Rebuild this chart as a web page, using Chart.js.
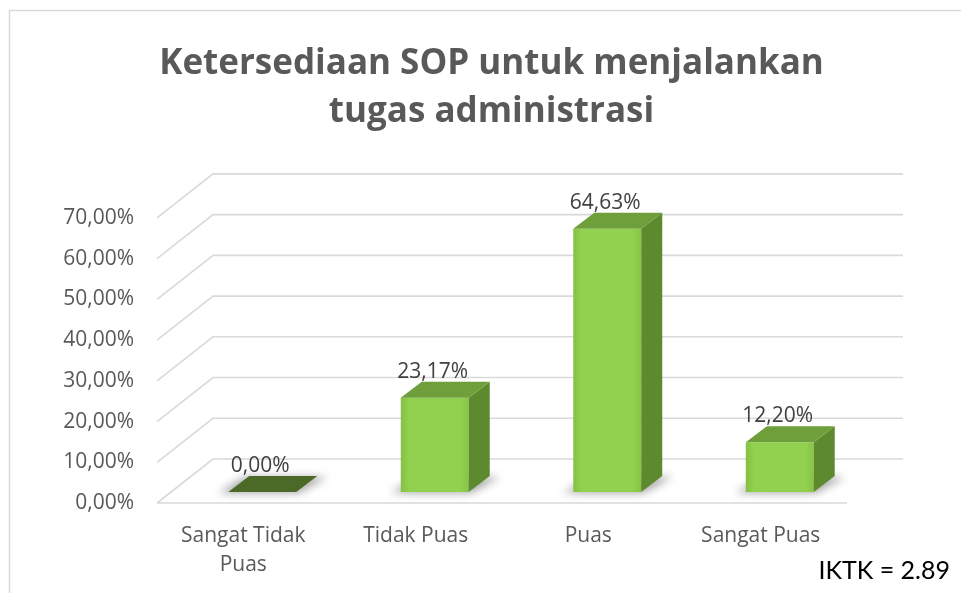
<!DOCTYPE html>
<html>
<head>
    <title>Ketersediaan SOP</title>
    <script src="https://cdn.jsdelivr.net/npm/chart.js"></script>
    <style>
        html, body { margin: 0; padding: 0; background: #fff; }
        #wrap { width: 961px; height: 593px; }
    </style>
</head>
<body>
    <div id="wrap"><canvas id="sopChart" width="961" height="593"></canvas></div>

    <script>
        const categories = [['Sangat Tidak', 'Puas'], 'Tidak Puas', 'Puas', 'Sangat Puas'];
        const percentValues = [0.00, 23.17, 64.63, 12.20];
        const yTicks = [0, 10, 20, 30, 40, 50, 60, 70];
        const titleLines = ['Ketersediaan SOP untuk menjalankan', 'tugas administrasi'];
        const noteText = 'IKTK = 2.89';

        // depth of the floor / back wall and of each box
        const WALL_DX = 56, WALL_DY = -44;
        const FRONT_DX = 19, FRONT_DY = -11;
        const SIDE_DX = 21, SIDE_DY = -16;

        const fmt = v => v.toFixed(2).replace('.', ',') + '%';

        const box3d = {
            id: 'box3d',
            beforeDatasetsDraw(chart) {
                const ctx = chart.ctx;
                const y = chart.scales.y;
                const left = chart.chartArea.left, right = chart.chartArea.right;
                ctx.save();
                ctx.strokeStyle = '#d9d9d9';
                ctx.lineWidth = 1.6;
                yTicks.forEach(v => {
                    const py = y.getPixelForValue(v);
                    ctx.beginPath();
                    ctx.moveTo(left, py);
                    ctx.lineTo(left + WALL_DX, py + WALL_DY);
                    ctx.lineTo(right + WALL_DX, py + WALL_DY);
                    if (v === 0) {
                        ctx.moveTo(left, py);
                        ctx.lineTo(right, py);
                    }
                    ctx.stroke();
                });
                ctx.restore();
            },
            afterDatasetsDraw(chart) {
                const ctx = chart.ctx;
                const y = chart.scales.y;
                const base = y.getPixelForValue(0) + FRONT_DY;
                const meta = chart.getDatasetMeta(0);
                ctx.save();
                meta.data.forEach((bar, i) => {
                    const w = bar.width;
                    const x0 = bar.x - w / 2 + FRONT_DX, x1 = x0 + w;
                    const top = bar.y + FRONT_DY;

                    // soft shadow on the floor
                    ctx.save();
                    ctx.filter = 'blur(4px)';
                    ctx.fillStyle = 'rgba(0,0,0,0.35)';
                    ctx.beginPath();
                    ctx.moveTo(x0 - 10, base + 1);
                    ctx.lineTo(x1 + 2, base + 1);
                    ctx.lineTo(x1 + SIDE_DX + 10, base + SIDE_DY + 1);
                    ctx.lineTo(x0 + SIDE_DX - 4, base + SIDE_DY + 1);
                    ctx.closePath();
                    ctx.fill();
                    ctx.restore();

                    if (percentValues[i] === 0) {
                        ctx.fillStyle = '#4b6a27';
                        ctx.beginPath();
                        ctx.moveTo(x0, base);
                        ctx.lineTo(x1, base);
                        ctx.lineTo(x1 + SIDE_DX, base + SIDE_DY);
                        ctx.lineTo(x0 + SIDE_DX, base + SIDE_DY);
                        ctx.closePath();
                        ctx.fill();
                    } else {
                        // front
                        const g = ctx.createLinearGradient(x0, 0, x1, 0);
                        g.addColorStop(0, '#84c043');
                        g.addColorStop(0.12, '#92d050');
                        g.addColorStop(0.88, '#92d050');
                        g.addColorStop(1, '#86c446');
                        ctx.fillStyle = g;
                        ctx.fillRect(x0, top, w, base - top);
                        // side
                        ctx.fillStyle = '#5e8a2f';
                        ctx.beginPath();
                        ctx.moveTo(x1, base);
                        ctx.lineTo(x1 + SIDE_DX, base + SIDE_DY);
                        ctx.lineTo(x1 + SIDE_DX, top + SIDE_DY);
                        ctx.lineTo(x1, top);
                        ctx.closePath();
                        ctx.fill();
                        // top
                        ctx.fillStyle = '#6f9f3b';
                        ctx.beginPath();
                        ctx.moveTo(x0, top);
                        ctx.lineTo(x1, top);
                        ctx.lineTo(x1 + SIDE_DX, top + SIDE_DY);
                        ctx.lineTo(x0 + SIDE_DX, top + SIDE_DY);
                        ctx.closePath();
                        ctx.fill();
                    }

                    // value label
                    ctx.fillStyle = '#404040';
                    ctx.font = '21px "Open Sans"';
                    ctx.textAlign = 'center';
                    ctx.textBaseline = 'middle';
                    ctx.fillText(fmt(percentValues[i]), x0 + w / 2 - 2, top + SIDE_DY - 10);
                });
                ctx.restore();
            },
            afterDraw(chart) {
                const ctx = chart.ctx;
                ctx.save();
                ctx.strokeStyle = '#d9d9d9';
                ctx.lineWidth = 1.5;
                ctx.strokeRect(9.5, 10.5, 1000, 1000);
                ctx.fillStyle = '#000';
                ctx.font = '25px Lato';
                ctx.textAlign = 'right';
                ctx.textBaseline = 'middle';
                ctx.fillText(noteText, 950, 571);
                ctx.restore();
            }
        };

        const ctx = document.getElementById('sopChart').getContext('2d');

        new Chart(ctx, {
            type: 'bar',
            data: {
                labels: categories,
                datasets: [{
                    data: percentValues,
                    backgroundColor: 'rgba(0,0,0,0)',
                    categoryPercentage: 1,
                    barPercentage: 0.394
                }]
            },
            options: {
                responsive: false,
                animation: false,
                layout: {
                    padding: { left: 22, right: 0, top: 0, bottom: 0 }
                },
                plugins: {
                    legend: { display: false },
                    tooltip: { enabled: false },
                    title: {
                        display: true,
                        text: titleLines,
                        color: '#595959',
                        font: { family: '"Open Sans"', size: 35, weight: 'bold', lineHeight: 1.37 },
                        padding: { top: 40, bottom: 82 }
                    }
                },
                scales: {
                    x: {
                        offset: true,
                        grid: { display: false, drawTicks: false },
                        border: { display: false },
                        afterFit(scale) { scale.height = 90; },
                        ticks: {
                            color: '#595959',
                            font: { family: '"Open Sans"', size: 21, lineHeight: 1.38 },
                            padding: 19,
                            maxRotation: 0
                        }
                    },
                    y: {
                        min: 0,
                        max: 70,
                        grid: { display: false, drawTicks: false },
                        border: { display: false },
                        afterFit(scale) { scale.width = 135; },
                        ticks: {
                            stepSize: 10,
                            color: '#595959',
                            font: { family: '"Open Sans"', size: 21 },
                            padding: 23,
                            callback: v => fmt(v)
                        }
                    },
                    // empty strip on the right that keeps the floor short of the edge
                    spacer: {
                        type: 'linear',
                        position: 'right',
                        grid: { display: false, drawTicks: false },
                        border: { display: false },
                        ticks: { display: false },
                        afterFit(scale) { scale.width = 114; }
                    }
                }
            },
            plugins: [box3d]
        });
    </script>
</body>
</html>
